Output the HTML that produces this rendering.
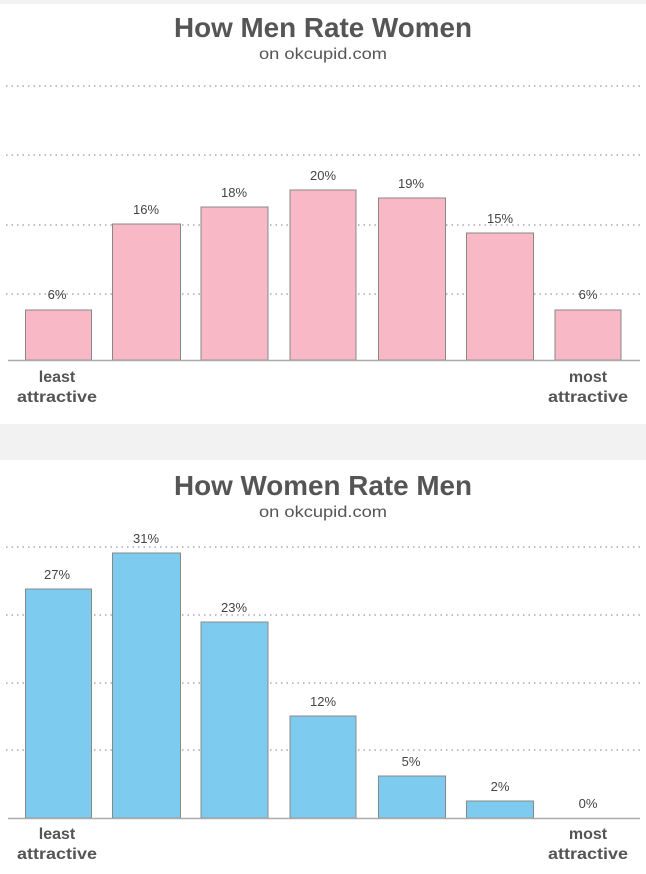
<!DOCTYPE html>
<html><head><style>
body{margin:0;background:#fff;}
svg{display:block;font-family:"Liberation Sans",sans-serif;}
</style></head><body>
<svg width="646" height="874" viewBox="0 0 646 874">
<rect width="646" height="874" fill="#fff"/>
<rect x="0" y="0" width="646" height="4" fill="#f2f2f2"/>
<rect x="0" y="424" width="646" height="36" fill="#f2f2f2"/>
<g fill="#555" text-anchor="middle">
<text x="323" y="37" font-size="28" font-weight="bold" textLength="298" lengthAdjust="spacingAndGlyphs">How Men Rate Women</text>
<text x="323" y="59" font-size="16" textLength="128" lengthAdjust="spacingAndGlyphs">on okcupid.com</text>
<text x="323" y="495" font-size="28" font-weight="bold" textLength="298" lengthAdjust="spacingAndGlyphs">How Women Rate Men</text>
<text x="323" y="517" font-size="16" textLength="128" lengthAdjust="spacingAndGlyphs">on okcupid.com</text>
</g>
<g stroke="#999" stroke-width="1.2" stroke-dasharray="1.5,4">
<line x1="6" x2="640" y1="86" y2="86"/><line x1="6" x2="640" y1="155" y2="155"/>
<line x1="6" x2="640" y1="225" y2="225"/><line x1="6" x2="640" y1="294" y2="294"/>
<line x1="6" x2="640" y1="547" y2="547"/><line x1="6" x2="640" y1="615" y2="615"/>
<line x1="6" x2="640" y1="683" y2="683"/><line x1="6" x2="640" y1="750" y2="750"/>
</g>
<g fill="#f9b8c6" stroke="#888" stroke-width="1">
<rect x="25.5" y="310" width="66" height="50"/>
<rect x="112.5" y="224" width="68" height="136"/>
<rect x="201" y="207" width="67" height="153"/>
<rect x="290" y="190" width="66" height="170"/>
<rect x="378.5" y="198" width="67" height="162"/>
<rect x="466.5" y="233" width="67" height="127"/>
<rect x="555" y="310" width="66" height="50"/>
</g>
<g fill="#7ecbf0" stroke="#888" stroke-width="1">
<rect x="25.5" y="589" width="66" height="229"/>
<rect x="112.5" y="553" width="68" height="265"/>
<rect x="201" y="622" width="67" height="196"/>
<rect x="290" y="716" width="66" height="102"/>
<rect x="378.5" y="776" width="67" height="42"/>
<rect x="466.5" y="801" width="67" height="17"/>
</g>
<line x1="8" x2="640" y1="360.5" y2="360.5" stroke="#aaa" stroke-width="1.5"/>
<line x1="8" x2="640" y1="818.5" y2="818.5" stroke="#aaa" stroke-width="1.5"/>
<g fill="#444" font-size="13" text-anchor="middle">
<text x="57" y="299">6%</text><text x="146" y="214">16%</text><text x="234" y="197">18%</text>
<text x="323" y="180">20%</text><text x="411" y="188">19%</text><text x="500" y="223">15%</text><text x="588" y="299">6%</text>
<text x="57" y="579">27%</text><text x="146" y="543">31%</text><text x="234" y="612">23%</text>
<text x="323" y="706">12%</text><text x="411" y="766">5%</text><text x="500" y="791">2%</text><text x="588" y="808">0%</text>
</g>
<g fill="#555" font-size="16" font-weight="bold" text-anchor="middle">
<text x="57" y="382">least</text><text x="57" y="402" textLength="80" lengthAdjust="spacingAndGlyphs">attractive</text>
<text x="588" y="382">most</text><text x="588" y="402" textLength="80" lengthAdjust="spacingAndGlyphs">attractive</text>
<text x="57" y="839">least</text><text x="57" y="859" textLength="80" lengthAdjust="spacingAndGlyphs">attractive</text>
<text x="588" y="839">most</text><text x="588" y="859" textLength="80" lengthAdjust="spacingAndGlyphs">attractive</text>
</g>
</svg>
</body></html>
